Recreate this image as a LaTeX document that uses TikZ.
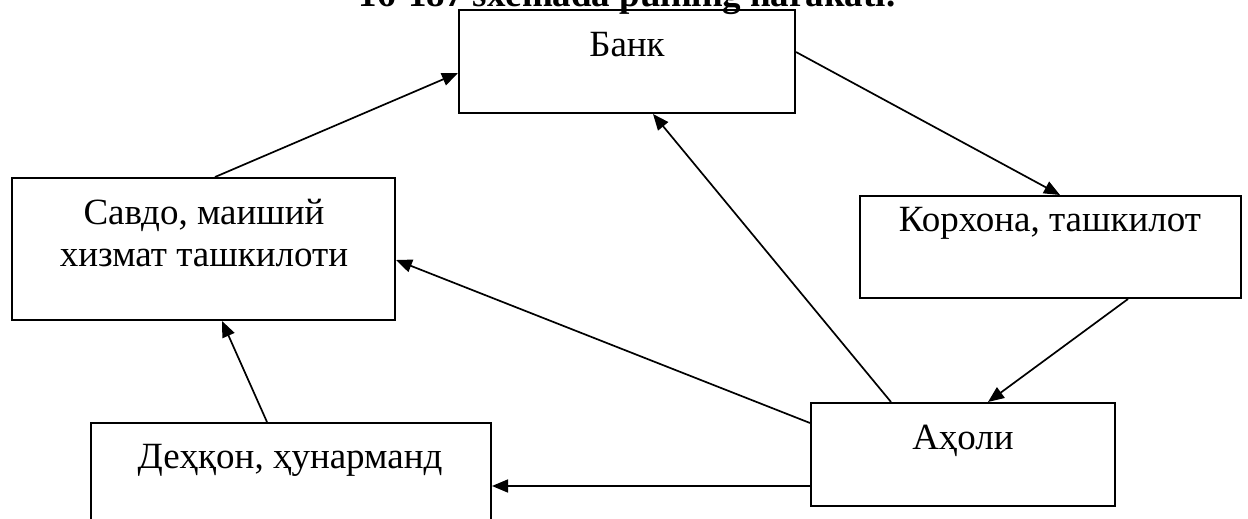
\documentclass[tikz,border=0pt]{standalone}
\usepackage{fontspec}
\setmainfont{Liberation Serif}
\usetikzlibrary{arrows.meta}
\begin{document}
\begin{tikzpicture}[x=1pt,y=-1pt,
  boxn/.style={draw,line width=2pt,rectangle,inner sep=0pt},
  lbl/.style={inner sep=0pt,font=\fontsize{37}{42}\selectfont,align=center},
  conn/.style={line width=1.7pt,-{Triangle[length=16pt,width=13pt]}}]
\clip (0,0) rectangle (1248,519);
\fill[white] (0,0) rectangle (1248,519);
\node[inner sep=0pt,anchor=base,font=\fontsize{37}{42}\selectfont\bfseries] (title) at (627,7) {16-187 sxemada pulning harakati.};
\node[boxn,minimum width=336pt,minimum height=103pt] (bank) at (627,61.5) {};
\node[boxn,minimum width=383pt,minimum height=142pt] (savdo) at (203.5,249) {};
\node[boxn,minimum width=381pt,minimum height=102pt] (korx) at (1050.5,247) {};
\node[boxn,minimum width=400pt,minimum height=103pt] (dehk) at (291,474.5) {};
\node[boxn,minimum width=304pt,minimum height=103pt] (aholi) at (963,454.5) {};
\node[lbl,anchor=base] (tbank) at (627,57) {Банк};
\node[lbl,anchor=north] (tsavdo) at (204,199) {Савдо, маиший\\хизмат ташкилоти};
\node[lbl,anchor=base] (tkorx) at (1050,231) {Корхона, ташкилот};
\node[lbl,anchor=base] (tdehk) at (290,468) {Деҳқон, ҳунарманд};
\node[lbl,anchor=base] (taholi) at (963,449) {Аҳоли};
\draw[conn] ([xshift=11.5pt]savdo.north) -- ([yshift=-11.5pt]bank.west);
\draw[conn] ([yshift=9.5pt]bank.east) -- ([xshift=9.5pt]korx.north);
\draw[conn] ([xshift=77.5pt]korx.south) -- ([xshift=25pt]aholi.north);
\draw[conn] ([xshift=-72pt]aholi.north) -- ([xshift=26pt]bank.south);
\draw[conn] ([yshift=31.5pt]aholi.west) -- ([yshift=-11pt]savdo.east);
\draw[conn] ([yshift=-31.5pt]aholi.west) -- ([yshift=-11.5pt]dehk.east);
\draw[conn] ([xshift=-24pt]dehk.north) -- ([xshift=18.5pt]savdo.south);
\end{tikzpicture}
\end{document}
